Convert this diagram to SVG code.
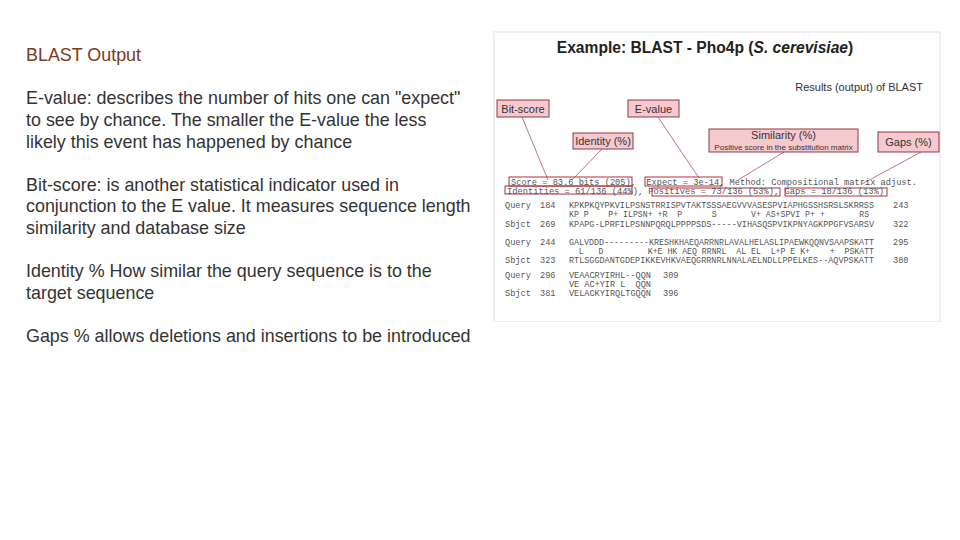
<svg xmlns="http://www.w3.org/2000/svg" width="960" height="540" viewBox="0 0 960 540">
<style>
.t{font-family:"Liberation Sans",Arial,sans-serif;font-size:17.9px;fill:#333}
.box{fill:#f6c9cf;stroke:#8a3b44;stroke-width:1}
.bl{font-family:"Liberation Sans",Arial,sans-serif;font-size:11px;fill:#333}
.ln{stroke:#b0505a;stroke-width:0.8;fill:none}
.hb{fill:none;stroke:#b0303a;stroke-width:1}
.m{font-family:"Liberation Mono","Courier New",monospace;font-size:8.6px;fill:#555;white-space:pre}
</style>
<rect width="960" height="540" fill="#fff"/>
<g id="left-text">
<text class="t" x="26" y="61" style="fill:#7a3b1e">BLAST Output</text>
<text class="t" x="26" y="104">E-value: describes the number of hits one can "expect"</text>
<text class="t" x="26" y="126">to see by chance. The smaller the E-value the less</text>
<text class="t" x="26" y="148">likely this event has happened by chance</text>
<text class="t" x="26" y="191">Bit-score: is another statistical indicator used in</text>
<text class="t" x="26" y="212">conjunction to the E value. It measures sequence length</text>
<text class="t" x="26" y="234">similarity and database size</text>
<text class="t" x="26" y="277">Identity % How similar the query sequence is to the</text>
<text class="t" x="26" y="299">target sequence</text>
<text class="t" x="26" y="342">Gaps % allows deletions and insertions to be introduced</text>
</g>
<g id="figure">
<rect x="493" y="31" width="448" height="291" fill="#efefef"/>
<rect x="495" y="33" width="444" height="288" fill="#fff"/>
<text x="705" y="53" text-anchor="middle" style="font-family:'Liberation Sans',Arial,sans-serif;font-size:15.6px;font-weight:bold;fill:#222">Example: BLAST - Pho4p (<tspan font-style="italic">S. cerevisiae</tspan>)</text>
<text class="bl" x="923" y="91" text-anchor="end">Results (output) of BLAST</text>
</g>
<g id="connectors">
<line class="ln" x1="522" y1="117" x2="548" y2="180"/>
<line class="ln" x1="602" y1="149" x2="572" y2="180"/>
<line class="ln" x1="658" y1="117" x2="699" y2="178"/>
<line class="ln" x1="784" y1="152" x2="738" y2="180"/>
<line class="ln" x1="921" y1="152" x2="862" y2="184"/>
</g>
<g id="bit-score"><rect class="box" x="497" y="100" width="52" height="17"/><text class="bl" x="523" y="112.5" text-anchor="middle">Bit-score</text></g>
<g id="e-value"><rect class="box" x="628" y="100" width="51" height="17"/><text class="bl" x="653.5" y="112.5" text-anchor="middle">E-value</text></g>
<g id="identity"><rect class="box" x="573" y="133" width="60" height="16"/><text class="bl" x="603" y="145" text-anchor="middle">Identity (%)</text></g>
<g id="similarity"><rect class="box" x="709" y="129" width="149" height="23"/><text class="bl" x="783.5" y="139" text-anchor="middle">Similarity (%)</text><text x="783.5" y="149.5" text-anchor="middle" style="font-family:'Liberation Sans',Arial,sans-serif;font-size:8px;fill:#333">Positive score in the substitution matrix</text></g>
<g id="gaps"><rect class="box" x="878" y="132" width="61" height="20"/><text class="bl" x="908.5" y="146" text-anchor="middle">Gaps (%)</text></g>
<g id="alignment">
<rect class="hb" x="509" y="177" width="123" height="9"/>
<rect class="hb" x="505" y="186" width="127" height="8"/>
<rect class="hb" x="645" y="177" width="77" height="9"/>
<rect class="hb" x="652" y="188" width="128" height="8"/>
<rect class="hb" x="785" y="188" width="102" height="8"/>
<text class="m" x="511" y="184.5" textLength="406" lengthAdjust="spacingAndGlyphs">Score = 83.6 bits (205),  Expect = 3e-14, Method: Compositional matrix adjust.</text>
<text class="m" x="507" y="193.5" textLength="377" lengthAdjust="spacingAndGlyphs">Identities = 61/136 (44%), Positives = 73/136 (53%), Gaps = 18/136 (13%)</text>
<text class="m" x="505" y="208">Query</text><text class="m" x="540" y="208">184</text><text class="m" x="569" y="208" textLength="305" lengthAdjust="spacingAndGlyphs">KPKPKQYPKVILPSNSTRRISPVTAKTSSSAEGVVVASESPVIAPHGSSHSRSLSKRRSS</text><text class="m" x="893" y="208">243</text>
<text class="m" x="569" y="217" textLength="305" lengthAdjust="spacingAndGlyphs">KP P    P+ ILPSN+ +R  P      S       V+ AS+SPVI P+ +       RS </text>
<text class="m" x="505" y="227">Sbjct</text><text class="m" x="540" y="227">269</text><text class="m" x="569" y="227" textLength="305" lengthAdjust="spacingAndGlyphs">KPAPG-LPRFILPSNNPQRQLPPPPSDS-----VIHASQSPVIKPNYAGKPPGFVSARSV</text><text class="m" x="893" y="227">322</text>
<text class="m" x="505" y="245">Query</text><text class="m" x="540" y="245">244</text><text class="m" x="569" y="245" textLength="305" lengthAdjust="spacingAndGlyphs">GALVDDD---------KRESHKHAEQARRNRLAVALHELASLIPAEWKQQNVSAAPSKATT</text><text class="m" x="893" y="245">295</text>
<text class="m" x="569" y="254" textLength="305" lengthAdjust="spacingAndGlyphs">  L   D         K+E HK AEQ RRNRL  AL EL  L+P E K+    +  PSKATT</text>
<text class="m" x="505" y="263">Sbjct</text><text class="m" x="540" y="263">323</text><text class="m" x="569" y="263" textLength="305" lengthAdjust="spacingAndGlyphs">RTLSGGDANTGDEPIKKEVHKVAEQGRRNRLNNALAELNDLLPPELKES--AQVPSKATT</text><text class="m" x="893" y="263">380</text>
<text class="m" x="505" y="278">Query</text><text class="m" x="540" y="278">296</text><text class="m" x="569" y="278" textLength="82" lengthAdjust="spacingAndGlyphs">VEAACRYIRHL--QQN</text><text class="m" x="663" y="278">309</text>
<text class="m" x="569" y="287" textLength="82" lengthAdjust="spacingAndGlyphs">VE AC+YIR L  QQN</text>
<text class="m" x="505" y="296">Sbjct</text><text class="m" x="540" y="296">381</text><text class="m" x="569" y="296" textLength="82" lengthAdjust="spacingAndGlyphs">VELACKYIRQLTGQQN</text><text class="m" x="663" y="296">396</text>
</g>
</svg>
